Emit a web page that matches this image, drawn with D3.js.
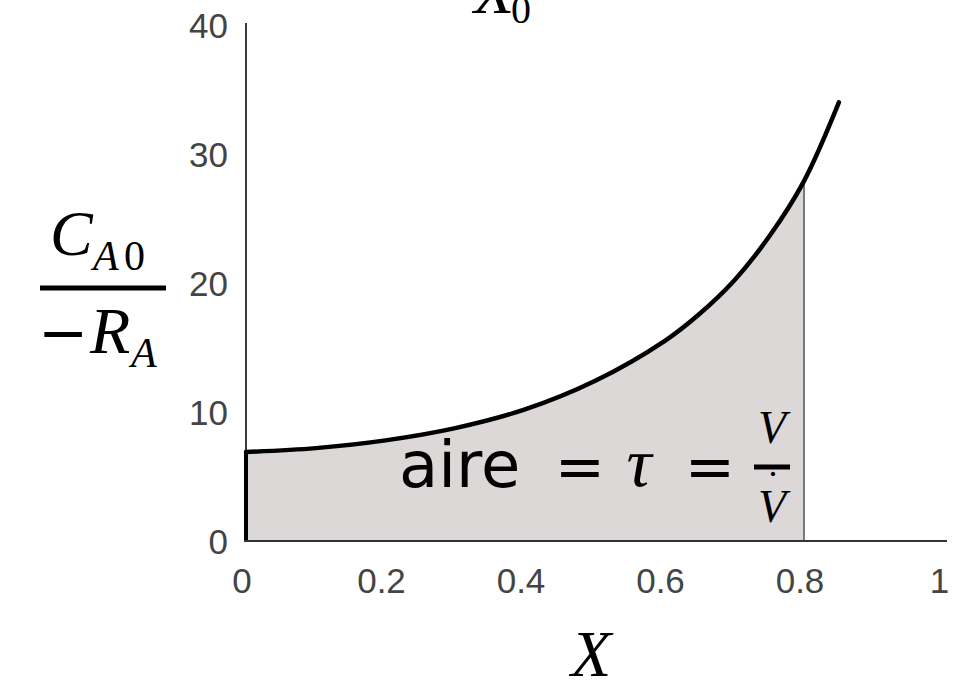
<!DOCTYPE html>
<html>
<head>
<meta charset="utf-8">
<script src="https://cdn.jsdelivr.net/npm/d3@7"></script>
<style>
  html, body { margin: 0; padding: 0; background: #fff; }
  svg { display: block; }
</style>
</head>
<body>
<svg id="chart" width="962" height="680"></svg>
<script>
// ---- data ----
const conversion = [0, 0.1, 0.2, 0.3, 0.4, 0.5, 0.6, 0.65, 0.7, 0.75, 0.8, 0.85];
const invRate    = [6.9, 7.2, 7.8, 8.75, 10.2, 12.4, 15.5, 17.6, 20.2, 23.6, 27.9, 34.0];
const xTicks = [0, 0.2, 0.4, 0.6, 0.8, 1];
const xTickLabels = ["0", "0.2", "0.4", "0.6", "0.8", "1"];
const yTicks = [0, 10, 20, 30, 40];
const Xend = 0.8;

const svg = d3.select("#chart");
const x = d3.scaleLinear().domain([0, 1]).range([246, 943.5]);
const y = d3.scaleLinear().domain([0, 40]).range([541, 25]);

const pts = conversion.map((c, i) => ({ c, v: invRate[i] }));
const areaPts = pts.filter(d => d.c <= Xend);
const curve = d3.curveCatmullRom.alpha(0.5);

// filled area under curve
const area = d3.area().x(d => x(d.c)).y0(y(0)).y1(d => y(d.v)).curve(curve);
svg.append("path").datum(areaPts).attr("d", area).attr("fill", "#dbd8d7");

// right edge of area
svg.append("line")
  .attr("x1", x(Xend)).attr("x2", x(Xend))
  .attr("y1", y(0)).attr("y2", y(invRate[conversion.indexOf(Xend)]))
  .attr("stroke", "#7a7a7a").attr("stroke-width", 2);

// y axis line
svg.append("line")
  .attr("x1", x(0)).attr("x2", x(0)).attr("y1", 23).attr("y2", y(0) + 1)
  .attr("stroke", "#3a3a3a").attr("stroke-width", 2);
// left edge of area (thick)
svg.append("line")
  .attr("x1", x(0)).attr("x2", x(0)).attr("y1", y(invRate[0])).attr("y2", y(0) + 1)
  .attr("stroke", "#000").attr("stroke-width", 4);

// x axis line
svg.append("line")
  .attr("x1", x(0) - 2).attr("x2", 947).attr("y1", y(0)).attr("y2", y(0))
  .attr("stroke", "#333").attr("stroke-width", 2);

// curve
const line = d3.line().x(d => x(d.c)).y(d => y(d.v)).curve(curve);
svg.append("path").datum(pts).attr("d", line)
  .attr("fill", "none").attr("stroke", "#000").attr("stroke-width", 4.5)
  .attr("stroke-linecap", "round");

// tick labels
svg.append("g").selectAll("text").data(yTicks).join("text")
  .attr("x", 228).attr("y", d => y(d)).attr("dy", "0.36em")
  .attr("text-anchor", "end")
  .attr("font-family", "Liberation Sans, Arial, sans-serif")
  .attr("font-size", 35).attr("fill", "#444")
  .text(d => d);

svg.append("g").selectAll("text").data(xTicks).join("text")
  .attr("x", d => x(d) - 4).attr("y", 593)
  .attr("text-anchor", "middle")
  .attr("font-family", "Liberation Sans, Arial, sans-serif")
  .attr("font-size", 35).attr("fill", "#444")
  .text((d, i) => xTickLabels[i]);

const serif = "Liberation Serif, Times New Roman, serif";

// top label X0 (cut off at the top edge)
svg.append("text").attr("x", 474).attr("y", 13)
  .attr("font-family", serif).attr("font-style", "italic").attr("font-size", 66).attr("fill", "#000").text("X");
svg.append("text").attr("x", 511).attr("y", 23)
  .attr("font-family", serif).attr("font-size", 40).attr("fill", "#000").text("0");

// y axis label: C_A0 / -R_A
svg.append("text").attr("x", 50).attr("y", 255)
  .attr("font-family", serif).attr("font-style", "italic").attr("font-size", 64).attr("fill", "#000").text("C");
svg.append("text").attr("x", 93).attr("y", 270)
  .attr("font-family", serif).attr("font-style", "italic").attr("font-size", 42).attr("fill", "#000").text("A");
svg.append("text").attr("x", 124).attr("y", 270)
  .attr("font-family", serif).attr("font-size", 42).attr("fill", "#000").text("0");
svg.append("line").attr("x1", 40).attr("x2", 166).attr("y1", 288).attr("y2", 288)
  .attr("stroke", "#000").attr("stroke-width", 5);
svg.append("text").attr("x", 38).attr("y", 353)
  .attr("font-family", "DejaVu Sans, sans-serif").attr("font-size", 60).attr("fill", "#000").text("−");
svg.append("text").attr("x", 90).attr("y", 353)
  .attr("font-family", serif).attr("font-style", "italic").attr("font-size", 66).attr("fill", "#000").text("R");
svg.append("text").attr("x", 131).attr("y", 367)
  .attr("font-family", serif).attr("font-style", "italic").attr("font-size", 42).attr("fill", "#000").text("A");

// x axis label
svg.append("text").attr("x", 571).attr("y", 676)
  .attr("font-family", serif).attr("font-style", "italic").attr("font-size", 66).attr("fill", "#000").text("X");

// area annotation
svg.append("text").attr("x", 399).attr("y", 487)
  .attr("font-family", "DejaVu Sans, Verdana, sans-serif").attr("font-size", 64).attr("fill", "#000").text("aire");
svg.append("text").attr("x", 580).attr("y", 487).attr("text-anchor", "middle")
  .attr("font-family", "DejaVu Sans, Verdana, sans-serif").attr("font-size", 60).attr("fill", "#000").text("=");
svg.append("text").attr("x", 639).attr("y", 486).attr("text-anchor", "middle")
  .attr("font-family", serif).attr("font-style", "italic").attr("font-size", 70).attr("fill", "#000").text("τ");
svg.append("text").attr("x", 710).attr("y", 487).attr("text-anchor", "middle")
  .attr("font-family", "DejaVu Sans, Verdana, sans-serif").attr("font-size", 60).attr("fill", "#000").text("=");
svg.append("text").attr("x", 772).attr("y", 443).attr("text-anchor", "middle")
  .attr("font-family", serif).attr("font-style", "italic").attr("font-size", 46).attr("fill", "#000").text("V");
svg.append("line").attr("x1", 754).attr("x2", 790).attr("y1", 467).attr("y2", 467)
  .attr("stroke", "#000").attr("stroke-width", 5);
svg.append("text").attr("x", 772).attr("y", 522).attr("text-anchor", "middle")
  .attr("font-family", serif).attr("font-style", "italic").attr("font-size", 46).attr("fill", "#000").text("V");
svg.append("text").attr("x", 773).attr("y", 498).attr("text-anchor", "middle")
  .attr("font-family", serif).attr("font-size", 40).attr("fill", "#000").text("˙");
</script>
</body>
</html>
